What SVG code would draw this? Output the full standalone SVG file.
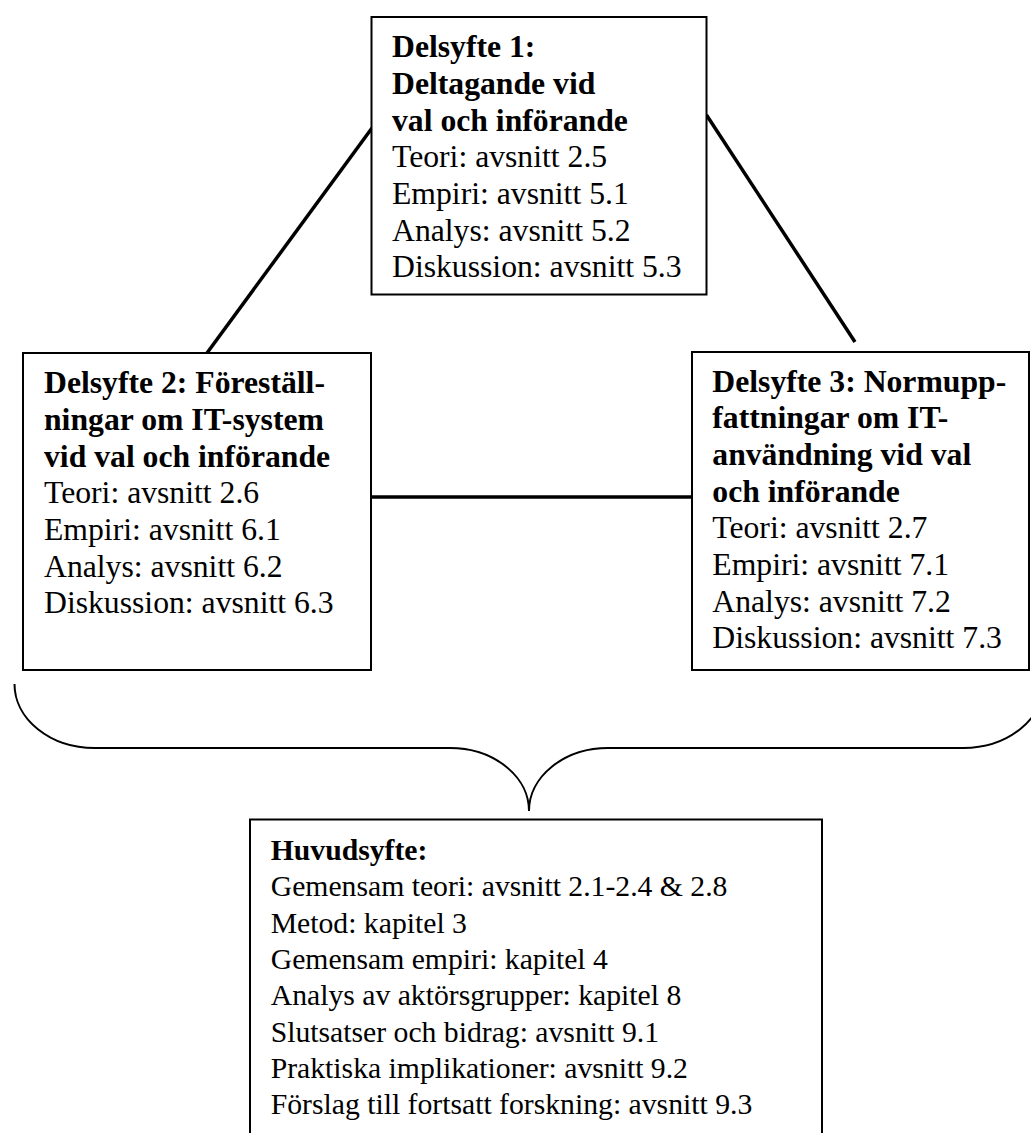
<svg xmlns="http://www.w3.org/2000/svg" width="1031" height="1133" viewBox="0 0 1031 1133">
<style>
.box{fill:#fff;stroke:#000;stroke-width:2}
.t{font-family:"Liberation Serif","Times New Roman",serif;fill:#000}
.s{font-size:31.7px}
.m{font-size:29.7px}
.b{font-weight:bold}
.con{stroke:#000;stroke-width:3.5;fill:none}
.brace{stroke:#000;stroke-width:2;fill:none}
</style>
<rect width="1031" height="1133" fill="#fff"/>
<g id="connectors">
<line class="con" x1="372" y1="128" x2="207" y2="353"/>
<line class="con" x1="706.5" y1="115" x2="855" y2="342"/>
<line class="con" x1="371" y1="497" x2="692" y2="497"/>
<path class="brace" d="M14.5,684 A80,64 0 0 0 94.5,748 L450,748 A79,63 0 0 1 529,811 A79,63 0 0 1 608,748 L963.5,748 A80,64 0 0 0 1043.5,684"/>
</g>
<g id="delsyfte1">
<rect class="box" x="371.5" y="17" width="335" height="277.5"/>
<text class="t s b" x="392" y="57.3">Delsyfte 1:</text>
<text class="t s b" x="392" y="94">Deltagande vid</text>
<text class="t s b" x="392" y="130.7">val och införande</text>
<text class="t s" x="392" y="167.3">Teori: avsnitt 2.5</text>
<text class="t s" x="392" y="204">Empiri: avsnitt 5.1</text>
<text class="t s" x="392" y="240.7">Analys: avsnitt 5.2</text>
<text class="t s" x="392" y="277.3">Diskussion: avsnitt 5.3</text>
</g>
<g id="delsyfte2">
<rect class="box" x="23" y="353" width="348" height="317"/>
<text class="t s b" x="44" y="393.3">Delsyfte 2: Föreställ-</text>
<text class="t s b" x="44" y="430">ningar om IT-system</text>
<text class="t s b" x="44" y="466.7">vid val och införande</text>
<text class="t s" x="44" y="503.3">Teori: avsnitt 2.6</text>
<text class="t s" x="44" y="540">Empiri: avsnitt 6.1</text>
<text class="t s" x="44" y="576.7">Analys: avsnitt 6.2</text>
<text class="t s" x="44" y="613.3">Diskussion: avsnitt 6.3</text>
</g>
<g id="delsyfte3">
<rect class="box" x="692" y="352" width="337" height="318"/>
<text class="t s b" x="712.3" y="391.7">Delsyfte 3: Normupp-</text>
<text class="t s b" x="712.3" y="428.3">fattningar om IT-</text>
<text class="t s b" x="712.3" y="465">användning vid val</text>
<text class="t s b" x="712.3" y="501.7">och införande</text>
<text class="t s" x="712.3" y="538.3">Teori: avsnitt 2.7</text>
<text class="t s" x="712.3" y="575">Empiri: avsnitt 7.1</text>
<text class="t s" x="712.3" y="611.7">Analys: avsnitt 7.2</text>
<text class="t s" x="712.3" y="648.3">Diskussion: avsnitt 7.3</text>
</g>
<g id="huvudsyfte">
<rect class="box" x="250" y="819.5" width="572" height="330"/>
<text class="t m b" x="270.7" y="860">Huvudsyfte:</text>
<text class="t m" x="270.7" y="896.3">Gemensam teori: avsnitt 2.1-2.4 &amp; 2.8</text>
<text class="t m" x="270.7" y="932.7">Metod: kapitel 3</text>
<text class="t m" x="270.7" y="969">Gemensam empiri: kapitel 4</text>
<text class="t m" x="270.7" y="1005.3">Analys av aktörsgrupper: kapitel 8</text>
<text class="t m" x="270.7" y="1041.7">Slutsatser och bidrag: avsnitt 9.1</text>
<text class="t m" x="270.7" y="1078">Praktiska implikationer: avsnitt 9.2</text>
<text class="t m" x="270.7" y="1114.3">Förslag till fortsatt forskning: avsnitt 9.3</text>
</g>
</svg>
